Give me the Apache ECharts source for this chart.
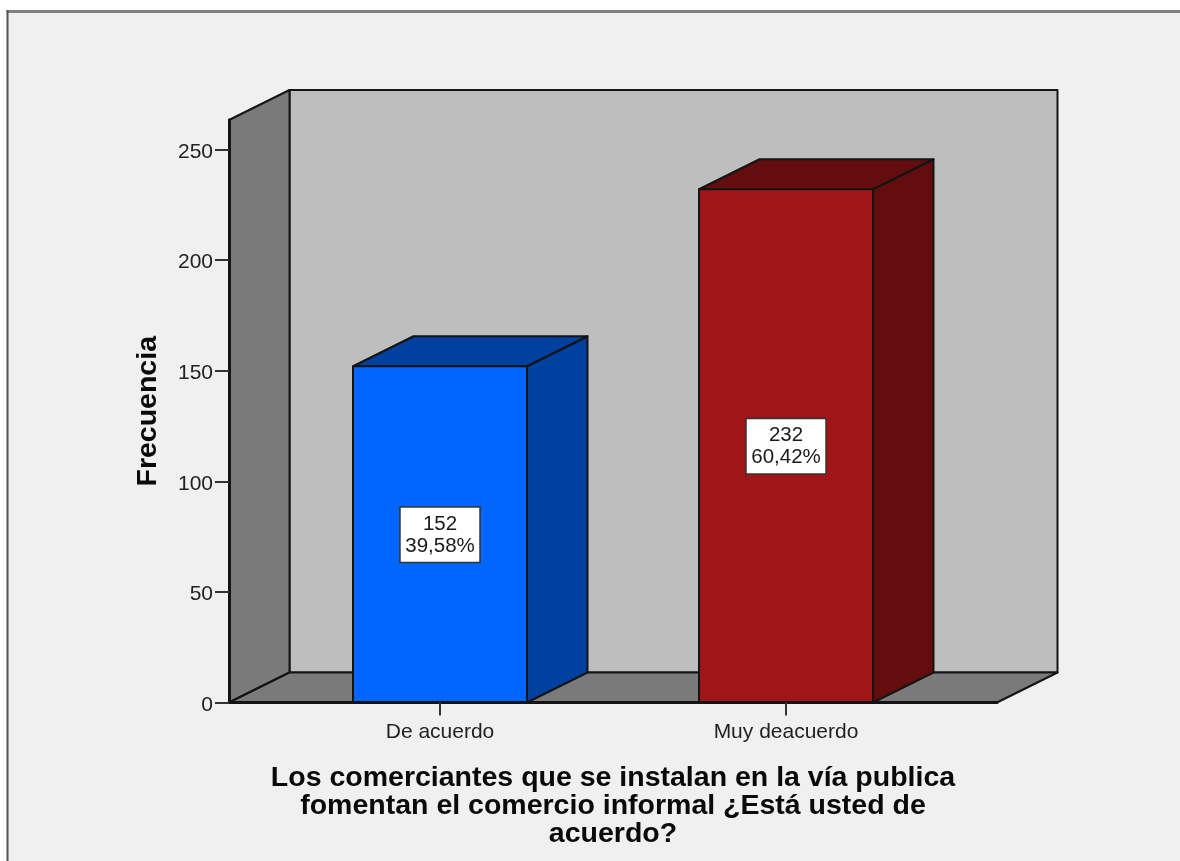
<!DOCTYPE html>
<html><head><meta charset="utf-8">
<style>html,body{margin:0;padding:0;background:#fff}#c{width:1180px;height:861px}</style>
<script src="https://cdn.jsdelivr.net/npm/echarts@6/dist/echarts.min.js"></script>
</head><body><div id="c"></div>
<script>
const categories = ['De acuerdo', 'Muy deacuerdo'];
const counts = [152, 232];
const percents = ['39,58%', '60,42%'];
const yTicks = [0, 50, 100, 150, 200, 250];
const frontColors = ['#0066ff', '#a01518'];
const sideColors = ['#00409f', '#640d0f'];
const xTitle = 'Los comerciantes que se instalan en la vía publica\nfomentan el comercio informal ¿Está usted de\nacuerdo?';
const yTitle = 'Frecuencia';

const DX = 60.5, DY = -30, EDGE = '#141414';
const FONT = '"Liberation Sans", Arial, sans-serif';
const chart = echarts.init(document.getElementById('c'), null, {renderer: 'canvas', width: 1180, height: 861});

function poly(points, fill, z2) {
  return {type: 'polygon', z2: z2 || 0, shape: {points},
    style: {fill, stroke: EDGE, lineWidth: 2, lineJoin: 'round'}};
}
function renderWalls(params) {
  const c = params.coordSys;
  const l = c.x, r = c.x + c.width, t = c.y, b = c.y + c.height;
  return {type: 'group', children: [
    poly([[l+DX,t+DY],[r+DX,t+DY],[r+DX,b+DY],[l+DX,b+DY]], '#bebebe'),
    poly([[l,t],[l+DX,t+DY],[l+DX,b+DY],[l,b]], '#7a7a7a'),
    poly([[l,b],[r,b],[r+DX,b+DY],[l+DX,b+DY]], '#7a7a7a')
  ]};
}
function renderBar(params, api) {
  const i = api.value(0), v = api.value(1);
  const top = api.coord([i, v]), base = api.coord([i, 0]), mid = api.coord([i, v / 2]);
  const half = api.size([1, 0])[0] * 0.2514;
  const l = top[0] - half, r = top[0] + half, t = top[1], b = base[1];
  return {type: 'group', children: [
    poly([[r,t],[r+DX,t+DY],[r+DX,b+DY],[r,b]], sideColors[i], 1),
    poly([[l,t],[l+DX,t+DY],[r+DX,t+DY],[r,t]], sideColors[i], 1),
    poly([[l,t],[r,t],[r,b],[l,b]], frontColors[i], 2),
    {type: 'text', z2: 5, style: {
      text: counts[i] + '\n' + percents[i], x: mid[0], y: mid[1] + 0.5,
      align: 'center', verticalAlign: 'middle',
      font: '20.5px ' + FONT, lineHeight: 22, fill: '#1a1a1a',
      backgroundColor: '#ffffff', borderColor: '#333333', borderWidth: 1.5,
      padding: [5, 4.5, 5, 4.5]
    }}
  ]};
}

chart.setOption({
  animation: false,
  backgroundColor: '#ffffff',
  graphic: [
    {type: 'rect', z: -10, shape: {x: 8, y: 12, width: 1172, height: 849}, style: {fill: '#f0f0f0'}},
    {type: 'line', z: -9, shape: {x1: 6.5, y1: 11.5, x2: 1180, y2: 11.5}, style: {stroke: '#7f7f7f', lineWidth: 3}},
    {type: 'line', z: -9, shape: {x1: 7.5, y1: 10, x2: 7.5, y2: 861}, style: {stroke: '#555555', lineWidth: 2}}
  ],
  grid: {left: 229, top: 120, width: 768, height: 582.5, show: false},
  xAxis: {
    type: 'value', min: -0.6098, max: 1.6098, z: 10,
    splitLine: {show: false},
    axisLine: {show: true, onZero: false, lineStyle: {color: EDGE, width: 3}},
    axisTick: {show: true, length: 13, customValues: [0, 1], lineStyle: {color: '#333', width: 2}},
    axisLabel: {show: true, customValues: [0, 1], margin: 19, color: '#222', fontFamily: FONT, fontSize: 21,
      formatter: v => categories[v]},
    name: xTitle, nameLocation: 'middle', nameGap: 62,
    nameTextStyle: {fontFamily: FONT, fontWeight: 'bold', fontSize: 28.5, lineHeight: 28, color: '#0a0a0a'}
  },
  yAxis: {
    type: 'value', min: 0, max: 263.3, z: 10,
    splitLine: {show: false},
    axisLine: {show: true, onZero: false, lineStyle: {color: EDGE, width: 3}},
    axisTick: {show: true, length: 14, customValues: yTicks, lineStyle: {color: '#333', width: 2}},
    axisLabel: {show: true, customValues: yTicks, margin: 16, color: '#222', fontFamily: FONT, fontSize: 21,
      verticalAlign: 'top', lineHeight: 21, padding: [-8, 0, 0, 0]},
    name: yTitle, nameLocation: 'middle', nameGap: 81, nameRotate: 90,
    nameTextStyle: {fontFamily: FONT, fontWeight: 'bold', fontSize: 28.5, color: '#0a0a0a', verticalAlign: 'middle'}
  },
  series: [
    {type: 'custom', z: 1, silent: true, clip: false, renderItem: renderWalls, data: [[0, 0]], encode: {x: 0, y: 1}},
    {type: 'custom', z: 2, silent: true, clip: false, renderItem: renderBar,
      data: counts.map((v, i) => [i, v]), encode: {x: 0, y: 1}}
  ]
});
</script></body></html>
